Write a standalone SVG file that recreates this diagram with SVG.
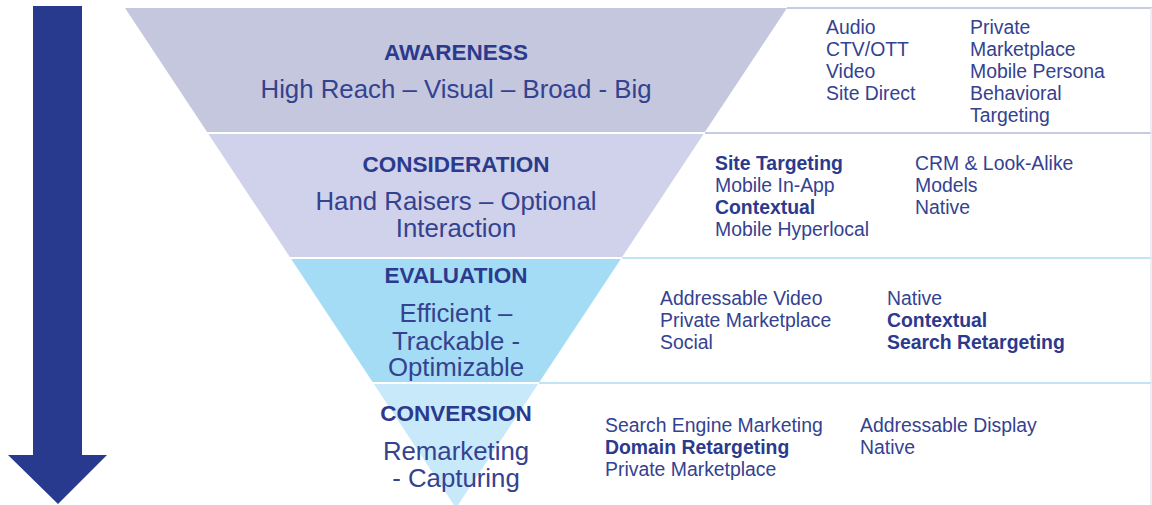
<svg xmlns="http://www.w3.org/2000/svg" width="1152" height="505" viewBox="0 0 1152 505">
  <style>
    .h { font-family: "Liberation Sans", Arial, sans-serif; font-weight: bold; fill: #2b3a8d; font-size: 22.5px; text-anchor: middle; }
    .s { font-family: "Liberation Sans", Arial, sans-serif; fill: #34428f; font-size: 25.8px; text-anchor: middle; }
    .t { font-family: "Liberation Sans", Arial, sans-serif; fill: #34428f; font-size: 19.4px; }
    .b { font-weight: bold; fill: #2b3a8d; }
    .sep { stroke: #ffffff; stroke-width: 2; }
    .ln1 { stroke: #c6cbe1; stroke-width: 2; fill: none; }
    .ln2 { stroke: #c3e4f5; stroke-width: 2; fill: none; }
    .edge { stroke: #e6e9f3; stroke-width: 1.5; fill: none; }
  </style>
  <rect width="1152" height="505" fill="#ffffff"/>

  <!-- direction arrow -->
  <g id="flow-arrow">
    <polygon points="33,6 82,6 82,455 107,455 58,504 8,455 33,455" fill="#283a8e"/>
  </g>

  <!-- right-hand boxes -->
  <g id="boxes">
    <line class="ln1" x1="787" y1="8" x2="1152" y2="8"/>
    <line class="ln1" x1="704" y1="133" x2="1152" y2="133"/>
    <line class="ln2" x1="621" y1="258" x2="1152" y2="258"/>
    <line class="ln2" x1="538" y1="383" x2="1152" y2="383"/>
    <line class="edge" x1="1151" y1="8" x2="1151" y2="505"/>
  </g>

  <!-- funnel stages -->
  <g id="awareness">
    <polygon points="125,8 787,8 704.25,133 207.75,133" fill="#c4c7de"/>
    <text class="h" x="456" y="60">AWARENESS</text>
    <text class="s" x="456" y="98">High Reach – Visual – Broad - Big</text>
    <text class="t" x="826" y="34">Audio</text>
    <text class="t" x="826" y="56">CTV/OTT</text>
    <text class="t" x="826" y="78">Video</text>
    <text class="t" x="826" y="100">Site Direct</text>
    <text class="t" x="970" y="34">Private</text>
    <text class="t" x="970" y="56">Marketplace</text>
    <text class="t" x="970" y="78">Mobile Persona</text>
    <text class="t" x="970" y="100">Behavioral</text>
    <text class="t" x="970" y="122">Targeting</text>
  </g>

  <g id="consideration">
    <polygon points="207.75,133 704.25,133 621.5,258 290.5,258" fill="#cfd2ea"/>
    <text class="h" x="456" y="172">CONSIDERATION</text>
    <text class="s" x="456" y="210">Hand Raisers – Optional</text>
    <text class="s" x="456" y="237">Interaction</text>
    <text class="t b" x="715" y="170">Site Targeting</text>
    <text class="t" x="715" y="192">Mobile In-App</text>
    <text class="t b" x="715" y="214">Contextual</text>
    <text class="t" x="715" y="236">Mobile Hyperlocal</text>
    <text class="t" x="915" y="170">CRM &amp; Look-Alike</text>
    <text class="t" x="915" y="192">Models</text>
    <text class="t" x="915" y="214">Native</text>
  </g>

  <g id="evaluation">
    <polygon points="290.5,258 621.5,258 538.75,383 373.25,383" fill="#a4dcf5"/>
    <text class="h" x="456" y="283">EVALUATION</text>
    <text class="s" x="456" y="322">Efficient –</text>
    <text class="s" x="456" y="350">Trackable -</text>
    <text class="s" x="456" y="376">Optimizable</text>
    <text class="t" x="660" y="305">Addressable Video</text>
    <text class="t" x="660" y="327">Private Marketplace</text>
    <text class="t" x="660" y="349">Social</text>
    <text class="t" x="887" y="305">Native</text>
    <text class="t b" x="887" y="327">Contextual</text>
    <text class="t b" x="887" y="349">Search Retargeting</text>
  </g>

  <g id="conversion">
    <polygon points="373.25,383 538.75,383 456,508" fill="#c7e9fa"/>
    <text class="h" x="456" y="421">CONVERSION</text>
    <text class="s" x="456" y="460">Remarketing</text>
    <text class="s" x="456" y="487">- Capturing</text>
    <text class="t" x="605" y="432">Search Engine Marketing</text>
    <text class="t b" x="605" y="454">Domain Retargeting</text>
    <text class="t" x="605" y="476">Private Marketplace</text>
    <text class="t" x="860" y="432">Addressable Display</text>
    <text class="t" x="860" y="454">Native</text>
  </g>

  <!-- white seams between stages -->
  <g id="seams">
    <line class="sep" x1="206" y1="133" x2="705" y2="133"/>
    <line class="sep" x1="289" y1="258" x2="622" y2="258"/>
    <line class="sep" x1="372" y1="383" x2="539" y2="383"/>
  </g>
</svg>
